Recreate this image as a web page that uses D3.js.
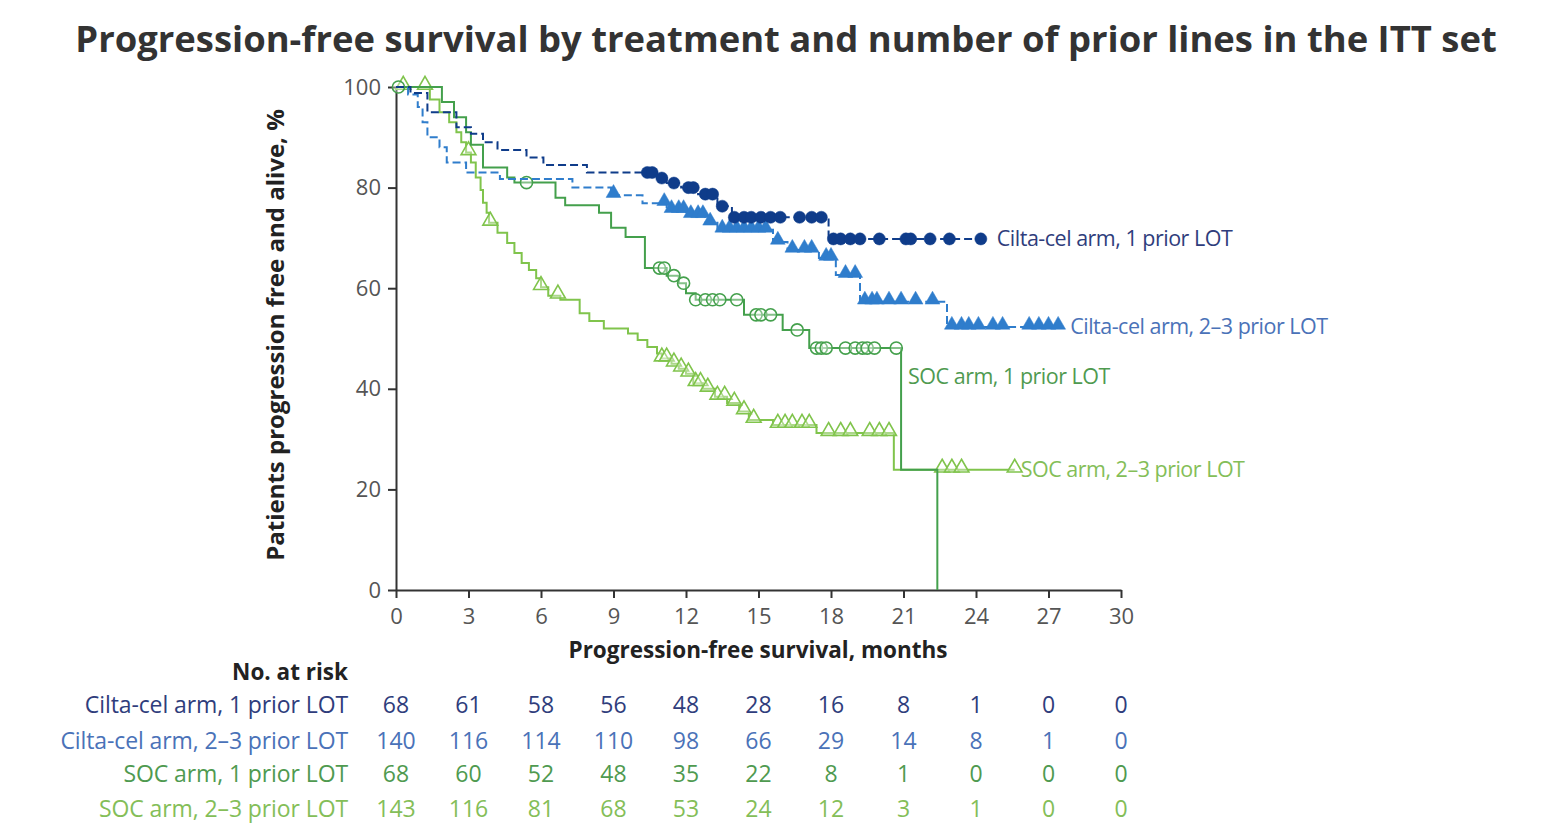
<!DOCTYPE html>
<html>
<head>
<meta charset="utf-8">
<script src="https://cdn.jsdelivr.net/npm/d3@7"></script>
<style>
  body { margin: 0; background: #fff; }
  svg { display: block; font-family: "Open Sans", "DejaVu Sans", sans-serif; }
</style>
</head>
<body>
<div id="chart-area"></div>
<script>
// ---- data ----
var monthTicks = [0, 3, 6, 9, 12, 15, 18, 21, 24, 27, 30];
var pctTicks = [0, 20, 40, 60, 80, 100];
var seriesNames = ["Cilta-cel arm, 1 prior LOT", "Cilta-cel arm, 2\u20133 prior LOT",
                   "SOC arm, 1 prior LOT", "SOC arm, 2\u20133 prior LOT"];

// Cilta-cel arm, 1 prior LOT
var cilta1Time = [0, 0.6, 1.3, 2.5, 3.1, 3.6, 4.2, 5.4, 6.1, 7.9, 10.8, 11.2, 11.8, 12.5, 13.3, 13.9, 17.9];
var cilta1Surv = [100, 98.8, 95, 92, 90.7, 89, 87.5, 86, 84.5, 83, 81.9, 80.9, 80, 78.7, 76.3, 74.1, 69.8];
var cilta1End = 24.2;
var cilta1Cens = [10.4, 10.6, 11.0, 11.5, 12.1, 12.3, 12.8, 13.1, 13.5, 14.0, 14.4, 14.7, 15.1, 15.5,
                  15.9, 16.7, 17.2, 17.6, 18.1, 18.4, 18.8, 19.2, 20.0, 21.1, 21.3, 22.1, 22.9, 24.2];

// Cilta-cel arm, 2-3 prior LOT
var cilta23Time = [0, 0.5, 0.9, 1.1, 1.3, 1.8, 2.1, 2.9, 4.3, 7.3, 8.9, 10.2, 11.2, 12.0, 12.8, 13.3,
                   15.6, 16.2, 17.5, 18.2, 19.2, 22.8];
var cilta23Surv = [100, 98.5, 96, 93, 90, 88, 85, 83, 81.7, 80, 78.5, 76.9, 75.5, 74.5, 73, 71.6,
                   69.2, 67.6, 66, 62.6, 57.3, 52.3];
var cilta23End = 27.4;
var cilta23Cens = [9.0, 11.1, 11.4, 11.7, 11.9, 12.2, 12.5, 12.7, 13.0, 13.5, 13.8, 14.1, 14.4, 14.7,
                   15.0, 15.3, 15.8, 16.4, 16.9, 17.2, 17.8, 18.0, 18.6, 19.0, 19.4, 19.7, 19.9, 20.4,
                   20.9, 21.5, 22.2, 23.0, 23.4, 23.7, 24.1, 24.7, 25.1, 26.2, 26.6, 27.0, 27.4];

// SOC arm, 1 prior LOT
var soc1Time = [0, 1.9, 2.4, 2.9, 3.1, 3.6, 4.6, 4.9, 6.6, 7.0, 8.4, 8.9, 9.5, 10.3, 11.2, 11.7, 12.0,
                12.4, 14.4, 16.0, 17.1, 20.9, 22.4];
var soc1Surv = [100, 97, 94, 91, 88.5, 84, 82, 81, 78, 76.5, 75, 72, 70.2, 64, 62.5, 61, 59,
                57.7, 54.7, 51.7, 48.1, 23.9, 0];
var soc1End = 22.4;
var soc1Cens = [0.1, 5.4, 10.9, 11.1, 11.5, 11.9, 12.4, 12.8, 13.1, 13.4, 14.1, 14.9, 15.1, 15.5,
                16.6, 17.4, 17.6, 17.8, 18.6, 19.0, 19.3, 19.5, 19.8, 20.7];

// SOC arm, 2-3 prior LOT
var soc23Time = [0, 1.4, 1.8, 2.2, 2.5, 2.7, 2.9, 3.1, 3.3, 3.5, 3.6, 3.75, 3.85, 4.2, 4.6, 4.9, 5.2,
                 5.5, 5.8, 6.0, 6.3, 6.8, 7.6, 8.0, 8.6, 9.6, 10.0, 10.4, 10.8, 11.0, 11.4, 11.7, 12.0,
                 12.3, 12.7, 13.2, 13.7, 14.2, 14.6, 15.6, 17.4, 20.6];
var soc23Surv = [100, 97.5, 95, 93, 91, 89, 87, 85, 82, 79.5, 77, 75, 73, 71, 69, 67, 65,
                 63.6, 62, 60.2, 58.5, 57.7, 55, 53.5, 52, 51, 49.7, 48.3, 47, 46, 45, 44, 43,
                 41.1, 40, 38.4, 37.2, 35.5, 33.8, 32.8, 31.2, 23.9];
var soc23End = 25.6;
var soc23Cens = [0.3, 1.2, 3.0, 3.9, 6.0, 6.7, 11.0, 11.2, 11.5, 11.8, 12.1, 12.4, 12.6, 12.9, 13.3,
                 13.6, 14.0, 14.4, 14.8, 15.8, 16.1, 16.4, 16.8, 17.1, 17.9, 18.4, 18.8, 19.6, 20.0,
                 20.4, 22.6, 23.0, 23.4, 25.6];

// numbers at risk
var riskCilta1 = [68, 61, 58, 56, 48, 28, 16, 8, 1, 0, 0];
var riskCilta23 = [140, 116, 114, 110, 98, 66, 29, 14, 8, 1, 0];
var riskSoc1 = [68, 60, 52, 48, 35, 22, 8, 1, 0, 0, 0];
var riskSoc23 = [143, 116, 81, 68, 53, 24, 12, 3, 1, 0, 0];

// ---- build series ----
var series = [
  {name: seriesNames[0], time: cilta1Time, surv: cilta1Surv, end: cilta1End, cens: cilta1Cens, risk: riskCilta1,
   color: "#0f3c8a", text: "#2f3d7c", dash: "8,4", marker: "circle", filled: true},
  {name: seriesNames[1], time: cilta23Time, surv: cilta23Surv, end: cilta23End, cens: cilta23Cens, risk: riskCilta23,
   color: "#2f7dcc", text: "#4a72b8", dash: "8,4", marker: "triangle", filled: true},
  {name: seriesNames[2], time: soc1Time, surv: soc1Surv, end: soc1End, cens: soc1Cens, risk: riskSoc1,
   color: "#44a04c", text: "#4f9a50", dash: null, marker: "circle", filled: false},
  {name: seriesNames[3], time: soc23Time, surv: soc23Surv, end: soc23End, cens: soc23Cens, risk: riskSoc23,
   color: "#80c44c", text: "#84be58", dash: null, marker: "triangle", filled: false}
];

// label placement (pixel offsets from end of each curve)
var labelPos = [
  {dx: 16, dy: 7, atX: null},
  {dx: 12, dy: 7, atX: null},
  {dx: 7, dy: 36, atX: 20.9, atY: 48.1},
  {dx: 6, dy: 7, atX: null}
];

var W = 1542, H = 839;
var svg = d3.select("#chart-area").append("svg")
    .attr("width", W)
    .attr("height", H);

var x = d3.scaleLinear().domain([0, 30]).range([396, 1121]);
var y = d3.scaleLinear().domain([0, 100]).range([590, 87]);

// title
var title = svg.append("text")
    .attr("x", 786)
    .attr("y", 52)
    .attr("text-anchor", "middle")
    .attr("font-weight", "bold")
    .attr("font-size", "31px")
    .attr("fill", "#333")
    .text("Progression-free survival by treatment and number of prior lines in the ITT set");
var tw = title.node().getComputedTextLength();
title.attr("font-size", (31 * 1422 / tw) + "px");

// axes
svg.append("g")
    .attr("class", "x axis")
    .attr("transform", "translate(0," + y(0) + ")")
    .call(d3.axisBottom(x).tickValues(monthTicks).tickSize(8).tickSizeOuter(0).tickPadding(10));
svg.append("g")
    .attr("class", "y axis")
    .attr("transform", "translate(" + x(0) + ",0)")
    .call(d3.axisLeft(y).tickValues(pctTicks).tickSize(8).tickSizeOuter(0).tickPadding(7));

svg.selectAll(".axis path, .axis line")
    .attr("stroke", "#333")
    .attr("stroke-width", 2);
svg.selectAll(".axis text")
    .attr("font-size", "22px")
    .attr("fill", "#555")
    .attr("font-family", "'Open Sans', sans-serif");

svg.append("text")
    .attr("x", 758)
    .attr("y", 658)
    .attr("text-anchor", "middle")
    .attr("font-weight", "bold")
    .attr("font-size", "22.5px")
    .attr("fill", "#222")
    .text("Progression-free survival, months");

svg.append("text")
    .attr("transform", "translate(284,335) rotate(-90)")
    .attr("text-anchor", "middle")
    .attr("font-weight", "bold")
    .attr("font-size", "24px")
    .attr("fill", "#222")
    .text("Patients progression free and alive, %");

// curves
var line = d3.line()
    .x(function(d) { return x(d[0]); })
    .y(function(d) { return y(d[1]); })
    .curve(d3.curveStepAfter);

function survAt(s, t) {
  var v = s.surv[0];
  for (var i = 0; i < s.time.length; i++) {
    if (s.time[i] <= t) v = s.surv[i];
  }
  return v;
}

var drawOrder = [3, 2, 1, 0];
drawOrder.forEach(function(k) {
  var s = series[k];
  var pts = s.time.map(function(t, i) { return [t, s.surv[i]]; });
  if (s.end > s.time[s.time.length - 1]) pts.push([s.end, s.surv[s.surv.length - 1]]);

  svg.append("path")
      .datum(pts)
      .attr("d", line)
      .attr("fill", "none")
      .attr("stroke", s.color)
      .attr("stroke-width", 2)
      .attr("stroke-dasharray", s.dash);

  var sym = d3.symbol().type(s.marker === "circle" ? d3.symbolCircle : d3.symbolTriangle)
      .size(s.marker === "circle" ? 115 : 95);

  svg.append("g").selectAll("path")
      .data(s.cens)
      .enter().append("path")
      .attr("d", sym)
      .attr("transform", function(t) { return "translate(" + x(t) + "," + (y(survAt(s, t)) - (s.marker === "triangle" ? 2 : 0)) + ")"; })
      .attr("fill", s.filled ? s.color : "rgba(255,255,255,0.35)")
      .attr("stroke", s.color)
      .attr("stroke-width", s.filled ? 0.5 : 1.6);
});

// curve labels
series.forEach(function(s, k) {
  var p = labelPos[k];
  var lx = p.atX != null ? x(p.atX) : x(s.end);
  var ly = p.atX != null ? y(p.atY) : y(s.surv[s.surv.length - 1]);
  svg.append("text")
      .attr("x", lx + p.dx)
      .attr("y", ly + p.dy)
      .attr("font-size", "21.5px")
      .attr("letter-spacing", "-0.5px")
      .attr("fill", s.text)
      .text(s.name);
});

// number at risk table
svg.append("text")
    .attr("x", 348)
    .attr("y", 680)
    .attr("text-anchor", "end")
    .attr("font-weight", "bold")
    .attr("font-size", "22.5px")
    .attr("fill", "#222")
    .text("No. at risk");

var rowY = [713, 749, 782, 817];
series.forEach(function(s, k) {
  svg.append("text")
      .attr("x", 348)
      .attr("y", rowY[k])
      .attr("text-anchor", "end")
      .attr("font-size", "23px")
      .attr("letter-spacing", "-0.1px")
      .attr("fill", s.text)
      .text(s.name);
  svg.append("g").selectAll("text")
      .data(s.risk)
      .enter().append("text")
      .attr("x", function(d, i) { return x(monthTicks[i]); })
      .attr("y", rowY[k])
      .attr("text-anchor", "middle")
      .attr("font-size", "23px")
      .attr("fill", s.text)
      .text(function(d) { return d; });
});
</script>
</body>
</html>
